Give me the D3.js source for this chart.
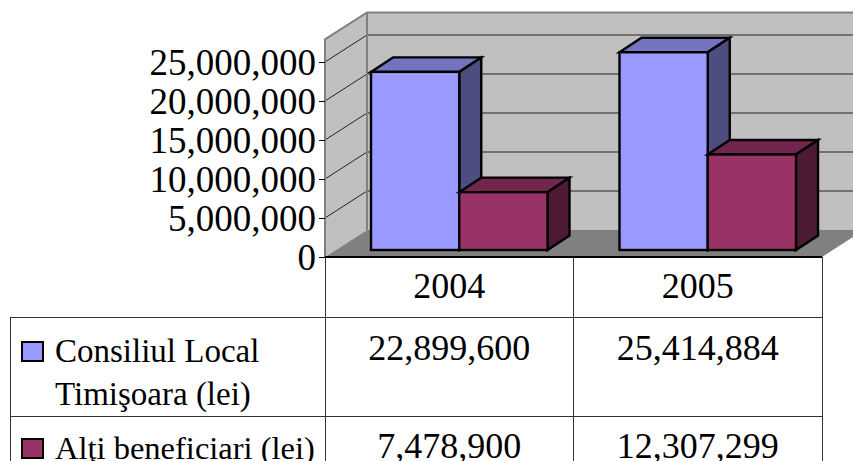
<!DOCTYPE html>
<html>
<head>
<meta charset="utf-8">
<script src="https://cdn.jsdelivr.net/npm/d3@7"></script>
<style>
  html, body { margin: 0; padding: 0; background: #fff; overflow: hidden; }
  svg { display: block; }
  text { font-family: "Liberation Serif", serif; fill: #000; }
</style>
</head>
<body>
<svg width="853" height="461"></svg>
<script>
// values
var years = ["2004", "2005"];
var seriesNames = ["Consiliul Local Timişoara (lei)", "Alţi beneficiari (lei)"];
var consiliulLocal = [22899600, 25414884];
var altiBeneficiari = [7478900, 12307299];
var tickValues = [0, 5000000, 10000000, 15000000, 20000000, 25000000];
var legendLines = [["Consiliul Local", "Timişoara (lei)"], ["Alţi beneficiari (lei)"]];
var colors = ["#9999ff", "#993366"];
var seriesValues = [consiliulLocal, altiBeneficiari];

var svg = d3.select("svg");

// front plane of the 3d box
var x = d3.scaleBand().domain(years).range([325, 822]);
var y = d3.scaleLinear().domain([0, 25000000]).range([257, 62]);
var inner = d3.scaleBand().domain(d3.range(seriesNames.length)).range([46, 222.5]);

var wallDx = 42, wallDy = -27;   // depth of the walls
var barDx = 22, barDy = -14.5;   // depth of a bar
var barBase = 250;
var wallTopValue = 27900000;
var fmt = d3.format(",");

function pts(a) { return a.map(function(p) { return p.join(","); }).join(" "); }

// walls and floor
var x0 = 325, x1 = 822, yFloor = y(0), yTop = y(wallTopValue);
svg.append("polygon")
    .attr("points", pts([[x0 + wallDx, yTop + wallDy], [x1 + wallDx, yTop + wallDy], [x1 + wallDx, yFloor + wallDy], [x0 + wallDx, yFloor + wallDy]]))
    .attr("fill", "#c0c0c0");
svg.append("polygon")
    .attr("points", pts([[x0, yTop], [x0 + wallDx, yTop + wallDy], [x0 + wallDx, yFloor + wallDy], [x0, yFloor]]))
    .attr("fill", "#c0c0c0");
svg.append("polygon")
    .attr("points", pts([[x0, yFloor], [x0 + wallDx, yFloor + wallDy], [x1 + wallDx, yFloor + wallDy], [x1, yFloor]]))
    .attr("fill", "#808080");

// gridlines along side and back wall
var grid = svg.append("g").attr("fill", "none").attr("stroke", "#222").attr("stroke-width", 1);
tickValues.slice(1).forEach(function(v) {
  grid.append("polyline")
      .attr("points", pts([[x0, y(v)], [x0 + wallDx, y(v) + wallDy], [x1 + wallDx, y(v) + wallDy]]));
});

// wall outline
svg.append("polyline")
    .attr("points", pts([[x0, yFloor], [x0, yTop], [x0 + wallDx, yTop + wallDy], [x1 + wallDx, yTop + wallDy]]))
    .attr("fill", "none").attr("stroke", "#808080").attr("stroke-width", 2);
svg.append("line")
    .attr("x1", x0 + wallDx).attr("x2", x0 + wallDx)
    .attr("y1", yTop + wallDy).attr("y2", yFloor + wallDy)
    .attr("stroke", "#808080").attr("stroke-width", 2);

// bars
years.forEach(function(year, i) {
  seriesValues.forEach(function(values, s) {
    var left = x(year) + inner(s), right = left + inner.bandwidth();
    var top = barBase - (y(0) - y(values[i])) + 0.5;
    var g = svg.append("g").attr("stroke", "#000").attr("stroke-width", 2.4).attr("stroke-linejoin", "miter");
    var c = d3.rgb(colors[s]);
    var shade = function(k) { return d3.rgb(c.r * k, c.g * k, c.b * k).formatHex(); };
    g.append("polygon")
        .attr("points", pts([[left, top], [left + barDx, top + barDy], [right + barDx, top + barDy], [right, top]]))
        .attr("fill", shade(0.75));
    g.append("polygon")
        .attr("points", pts([[right, top], [right + barDx, top + barDy], [right + barDx, barBase + barDy], [right, barBase]]))
        .attr("fill", shade(0.5));
    g.append("rect")
        .attr("x", left).attr("y", top)
        .attr("width", right - left).attr("height", barBase - top)
        .attr("fill", colors[s]);
  });
});

// y axis
var axis = svg.append("g")
    .attr("transform", "translate(325,0)")
    .call(d3.axisLeft(y).tickValues(tickValues).tickFormat(fmt).tickSize(6).tickPadding(3));
axis.select(".domain").remove();
axis.selectAll("line").attr("stroke", "#000");
axis.selectAll("text").attr("font-size", 37).attr("font-family", "Liberation Serif").attr("dy", "0.33em");

// data table
var rowY = [257, 317, 416, 470];
var table = svg.append("g").attr("stroke", "#333").attr("stroke-width", 1).attr("shape-rendering", "crispEdges");
[x0, x(years[1]), x1].forEach(function(v) {
  table.append("line").attr("x1", v).attr("x2", v).attr("y1", rowY[0]).attr("y2", rowY[3]);
});
table.append("line").attr("x1", 10.5).attr("x2", 10.5).attr("y1", rowY[1]).attr("y2", rowY[3]);
[rowY[1], rowY[2]].forEach(function(v) {
  table.append("line").attr("x1", 10).attr("x2", x1).attr("y1", v + 0.5).attr("y2", v + 0.5);
});
svg.append("line").attr("x1", x0).attr("x2", x1).attr("y1", yFloor).attr("y2", yFloor)
    .attr("stroke", "#000").attr("stroke-width", 2);

years.forEach(function(year, i) {
  var cx = x(year) + x.bandwidth() / 2;
  svg.append("text").attr("x", cx).attr("y", 298).attr("text-anchor", "middle")
      .attr("font-size", 36).text(year);
  seriesValues.forEach(function(values, s) {
    svg.append("text").attr("x", cx).attr("y", rowY[s + 1] + (s ? 42 : 43)).attr("text-anchor", "middle")
        .attr("font-size", 36).text(fmt(values[i]));
  });
});

// legend cells
legendLines.forEach(function(lines, s) {
  svg.append("rect")
      .attr("x", 22).attr("y", rowY[s + 1] + 25 + (s ? -2 : 0))
      .attr("width", 21).attr("height", 19)
      .attr("fill", colors[s]).attr("stroke", "#000").attr("stroke-width", 2);
  lines.forEach(function(line, l) {
    svg.append("text").attr("x", 55).attr("y", rowY[s + 1] + (s ? 43 : 45) + l * 43)
        .attr("font-size", s ? 32.5 : 33).text(line);
  });
});
</script>
</body>
</html>
